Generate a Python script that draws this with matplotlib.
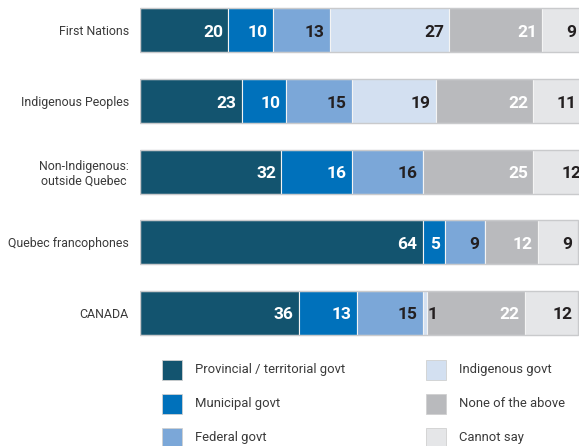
import numpy as np
import matplotlib.pyplot as plt
from matplotlib.patches import Rectangle

groups = ["First Nations", "Indigenous Peoples", "Non-Indigenous:\noutside Quebec",
          "Quebec francophones", "CANADA"]
series = ["Provincial / territorial govt", "Municipal govt", "Federal govt",
          "Indigenous govt", "None of the above", "Cannot say"]
provincial = [20, 23, 32, 64, 36]
municipal = [10, 10, 16, 5, 13]
federal = [13, 15, 16, 9, 15]
indigenous = [27, 19, 0, 0, 1]
none_above = [21, 22, 25, 12, 22]
cannot_say = [9, 11, 12, 9, 12]

values = [provincial, municipal, federal, indigenous, none_above, cannot_say]
colors = ["#13546f", "#0071bb", "#7ba7d8", "#d3e0f1", "#b9babd", "#e5e6e8"]
label_colors = ["white", "white", "#231f20", "#231f20", "white", "#231f20"]

W, H = 579, 446
fig = plt.figure(figsize=(W / 100, H / 100), dpi=100)
font = ["Roboto", "DejaVu Sans"]

# axes placed so that 0 sits at x=140 px, bars centred every ~70.6 px
x0_px = 140.0
px_per_unit = 4.42
xmax = (W - x0_px) / px_per_unit
pitch = 70.6
c0 = 30.3
ax = fig.add_axes([x0_px / W, 0, 1 - x0_px / W, 1])
ax.set_xlim(0, xmax)
ax.set_ylim((H - c0) / pitch, -c0 / pitch)

y = np.arange(len(groups))
bar_h = 44 / pitch
left = np.zeros(len(groups))
for vals, col, lc in zip(values, colors, label_colors):
    vals = np.array(vals, dtype=float)
    ax.barh(y, vals, left=left, height=bar_h, color=col,
            edgecolor="#f4f4f4", linewidth=0.8)
    for i, v in enumerate(vals):
        if v == 0:
            continue
        if v < 3:
            ax.text(left[i] + v + 0.05, y[i] + 0.03, f"{int(v)}", ha="left",
                    va="center", fontsize=12.5, fontweight="bold",
                    color="#231f20", family=font)
        else:
            ax.text(left[i] + v - 1.2, y[i] + 0.03, f"{int(v)}", ha="right",
                    va="center", fontsize=12.5, fontweight="bold", color=lc,
                    family=font)
    left += vals

# light outline around each whole bar
for i in range(len(groups)):
    ax.add_patch(Rectangle((0, y[i] - bar_h / 2), left[i], bar_h, fill=False,
                           edgecolor="#c9cacc", linewidth=1.0, zorder=3))

ax.set_yticks(y)
ax.set_yticklabels(groups, fontsize=8.9, color="#3a3a3a", family=font)
for t in ax.get_yticklabels():
    t.set_multialignment("center")
ax.tick_params(axis="y", length=0, pad=8)
ax.tick_params(axis="x", bottom=False, labelbottom=False)
for s in ax.spines.values():
    s.set_visible(False)

# legend, two columns of three entries
leg_x = [162, 426]
leg_y = [369.5, 403.5, 437.5]
sq = 20
for k, (name, col) in enumerate(zip(series, colors)):
    cx = leg_x[k // 3]
    cy = leg_y[k % 3]
    fig.add_artist(Rectangle((cx / W, 1 - (cy + sq / 2) / H), sq / W, sq / H,
                             transform=fig.transFigure, facecolor=col,
                             edgecolor="#d0d0d0", linewidth=0.6))
    fig.text((cx + 33) / W, 1 - cy / H, name, ha="left", va="center",
             fontsize=9.4, color="#3a3a3a", family=font)

fig.savefig("out.png", dpi=100)
